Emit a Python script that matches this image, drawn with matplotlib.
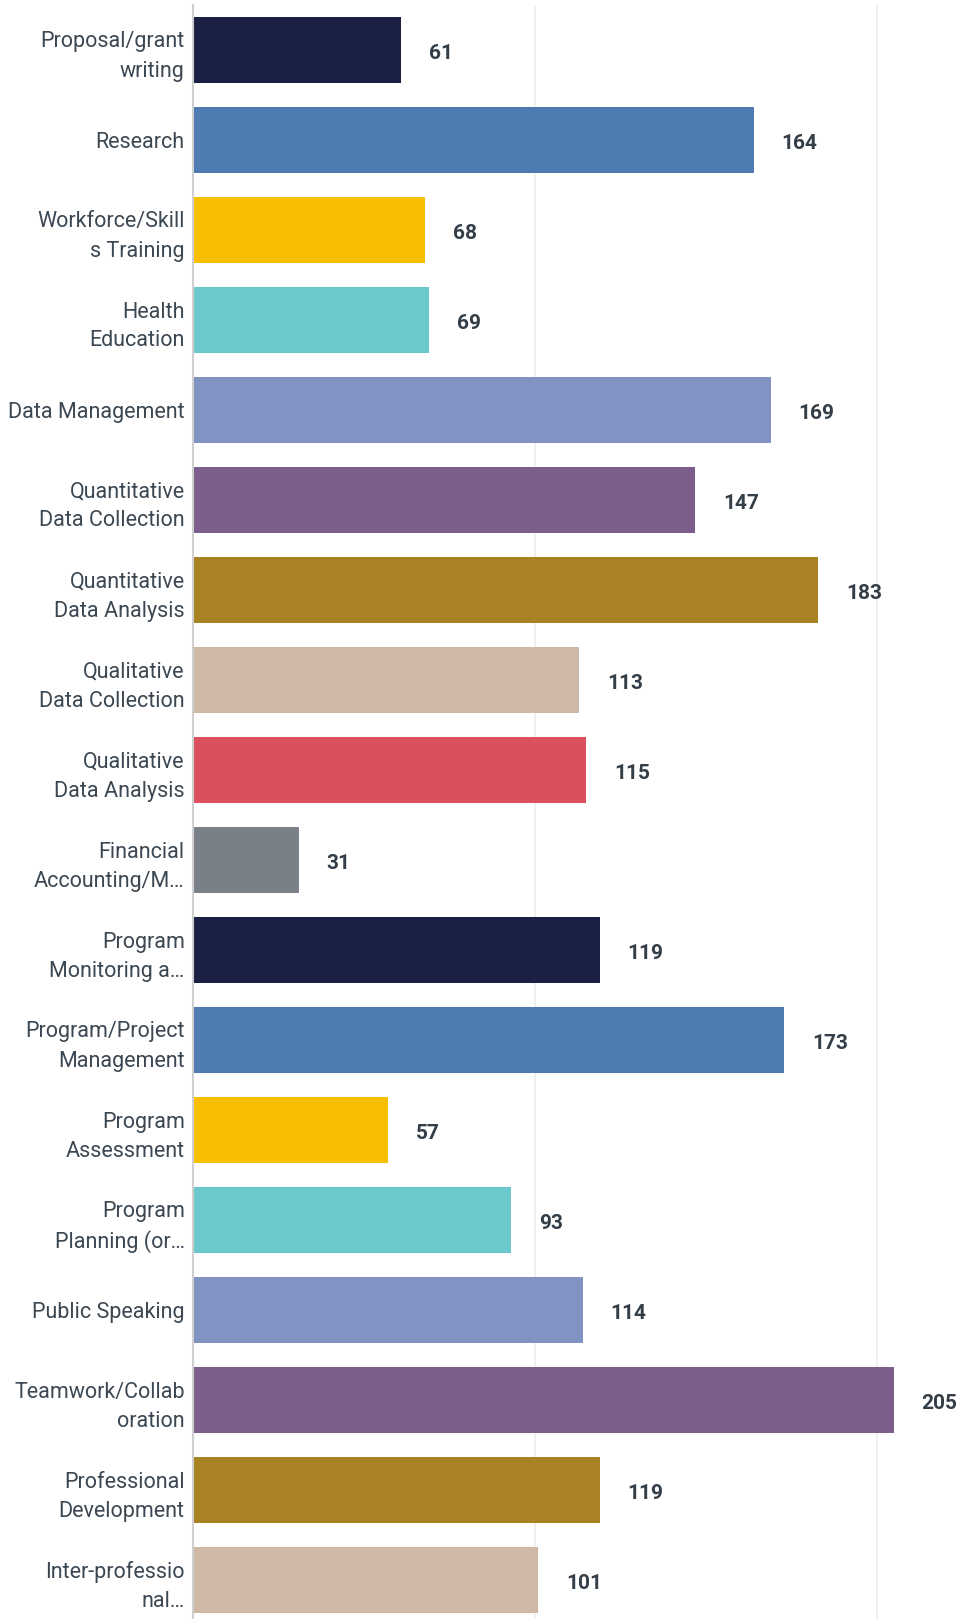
import matplotlib
matplotlib.use('Agg')
import matplotlib.pyplot as plt

# Data
categories = [
    'Proposal/grant\nwriting', 'Research', 'Workforce/Skill\ns Training',
    'Health\nEducation', 'Data Management', 'Quantitative\nData Collection',
    'Quantitative\nData Analysis', 'Qualitative\nData Collection',
    'Qualitative\nData Analysis', 'Financial\nAccounting/M…',
    'Program\nMonitoring a…', 'Program/Project\nManagement',
    'Program\nAssessment', 'Program\nPlanning (or…', 'Public Speaking',
    'Teamwork/Collab\noration', 'Professional\nDevelopment',
    'Inter-professio\nnal…',
]
counts = [61, 164, 68, 69, 169, 147, 183, 113, 115, 31, 119, 173, 57, 93, 114, 205, 119, 101]

palette = ['#1a1f44', '#4f7bb3', '#f8be00', '#6bc8cc', '#8093c3', '#7c5e8d',
           '#a98224', '#ceb8a6', '#dc4f5f', '#7a8087']
colors = [palette[i % len(palette)] for i in range(len(counts))]

plt.rcParams['font.family'] = ['Roboto', 'DejaVu Sans']

W, H = 962, 1619
fig = plt.figure(figsize=(W / 100, H / 100), dpi=100)
ax_left = 193 / W
ax_top = 5 / H
ax_h = 1620 / H
ax = fig.add_axes([ax_left, 1 - ax_top - ax_h, 1 - ax_left, ax_h])

y = list(range(len(counts)))
ax.barh(y, counts, height=0.733, color=colors, zorder=2)
ax.set_ylim(len(counts) - 0.5, -0.5)
ax.set_xlim(0, 225)

# light vertical gridlines at 0/100/200, no x tick labels
ax.set_xticks([0, 100, 200])
ax.xaxis.grid(True, color='#ececec', linewidth=1.2, zorder=0)
ax.tick_params(axis='x', length=0, labelbottom=False)
ax.tick_params(axis='y', length=0, pad=6)
ax.set_yticks(y)
ax.set_yticklabels(categories, fontsize=15.5, color='#3b4752', linespacing=1.5)

for s in ['top', 'right', 'bottom']:
    ax.spines[s].set_visible(False)
ax.spines['left'].set_color('#cfcfcf')
ax.spines['left'].set_linewidth(1.5)
ax.spines['left'].set_zorder(3)

# value labels
for yi, v in zip(y, counts):
    ax.annotate(str(v), xy=(v, yi), xytext=(20, -2.5), textcoords='offset points',
                va='center', ha='left', fontsize=15, fontweight='semibold',
                color='#333e48')

fig.savefig('out.png', dpi=100)
